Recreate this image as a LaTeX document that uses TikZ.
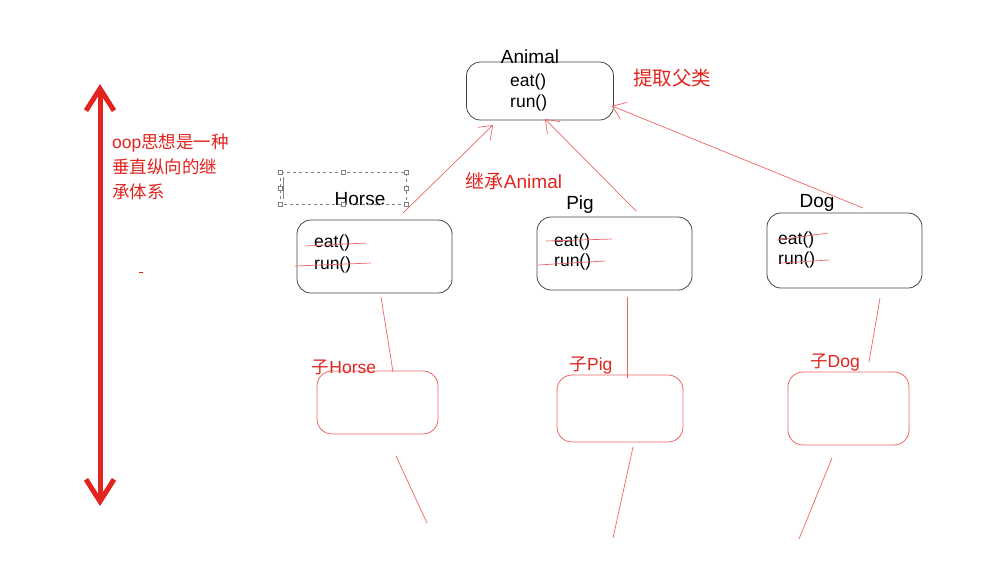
\documentclass[tikz,border=0pt]{standalone}
\usepackage{fontspec}
\setmainfont{Liberation Sans}
\newfontfamily\cjk{Noto Sans CJK SC}
\usetikzlibrary{arrows.meta}
\definecolor{txtred}{RGB}{226,35,30}
\definecolor{linered}{RGB}{238,100,100}
\definecolor{boxgray}{RGB}{70,70,70}
\begin{document}
\begin{tikzpicture}[x=1pt,y=-1pt,
  cls/.style={draw=boxgray, line width=0.8pt, rounded corners=14pt, inner sep=0pt},
  sub/.style={draw=linered, line width=0.8pt, rounded corners=15pt, inner sep=0pt},
  title/.style={font=\fontsize{19}{22}\selectfont, inner sep=0pt},
  meth/.style={font=\fontsize{17.5}{20}\selectfont, inner sep=0pt, anchor=west},
  rtxt/.style={text=txtred, font=\fontsize{19}{22}\selectfont, inner sep=0pt},
  ltxt/.style={text=txtred, font=\fontsize{17.5}{22}\selectfont, inner sep=0pt, anchor=base west},
  thinred/.style={draw=linered, line width=0.7pt},
  strike/.style={draw=linered, line width=0.7pt},
  inh/.style={thinred, -{Straight Barb[length=12pt,width=18pt]}},
  bigarrow/.style={draw=txtred, line width=5pt, {Straight Barb[length=22pt,width=28pt]}-{Straight Barb[length=22pt,width=28pt]}},
  handle/.style={draw=gray, fill=white, line width=0.5pt, minimum size=4pt, inner sep=0pt},
]
\useasboundingbox (0,0) rectangle (1000,568);

% ---- class boxes ----
\node[cls, minimum width=147pt, minimum height=58pt] (animal) at (540,91) {};
\node[cls, minimum width=155pt, minimum height=73pt] (horse) at (374.5,256.5) {};
\node[cls, minimum width=155pt, minimum height=73pt] (pig) at (614.5,253.5) {};
\node[cls, minimum width=155pt, minimum height=75pt] (dog) at (844.5,250.5) {};

% ---- titles ----
\node[title] (animalT) at (530,57) {Animal};
\node[title] (horseT) at (360,199) {Horse};
\node[title] (pigT) at (580,205) {Pig};
\node[title] (dogT) at (817,203) {Dog};

% ---- methods ----
\node[meth] (aeat) at (510,82) {eat()};
\node[meth] (arun) at (510,103) {run()};
\node[meth] (heat) at (314,243) {eat()};
\node[meth] (hrun) at (314,265) {run()};
\node[meth] (peat) at (554,242) {eat()};
\node[meth] (prun) at (554,262) {run()};
\node[meth] (deat) at (778,240) {eat()};
\node[meth] (drun) at (778,260) {run()};

% ---- strike-through marks ----
\draw[strike] (305,246) -- (366,243);
\draw[strike] (295,266) -- (371,263);
\draw[strike] (546,241) -- (612,239);
\draw[strike] (538,265) -- (605,261);
\draw[strike] (777,240) -- (828,233);
\draw[strike] (781,263) -- (829,260);

% ---- selection frame round Horse ----
\draw[gray, dashed, line width=0.6pt] (280,172) rectangle (406,204);
\draw[gray, line width=1pt] (283,177) -- (283,199);
\foreach \p in {(280,172),(343,172),(406,172),(280,188),(406,188),(280,204),(343,204),(406,204)}
  \node[handle] at \p {};

% ---- inheritance arrows ----
\coordinate (hsrc) at (403,213);
\coordinate (htip) at (493,125);
\coordinate (psrc) at (636,211);
\coordinate (ptip) at (545,119);
\coordinate (dsrc) at (863,208);
\coordinate (dtip) at (612,106);
\draw[inh] (hsrc) -- (htip);
\draw[inh] (psrc) -- (ptip);
\draw[inh] (dsrc) -- (dtip);

% ---- red labels ----
\node[rtxt, font=\fontsize{19.5}{22}\selectfont] (extract) at (672,78) {\cjk 提取父类};
\node[rtxt] (inherit) at (514,181) {{\cjk 继承}Animal};

% ---- left big arrow and text ----
\coordinate (vtop) at (100,84);
\coordinate (vbot) at (100,506);
\draw[bigarrow] (vtop) -- (vbot);
\node[ltxt] (l1) at (112,148.5) {oop{\cjk 思想是一种}};
\node[ltxt] (l2) at (112,173.5) {\cjk 垂直纵向的继};
\node[ltxt] (l3) at (112,198.5) {\cjk 承体系};
\draw[txtred, line width=0.8pt] (139,272) -- (143,272);

% ---- sub-class boxes ----
\node[sub, minimum width=121pt, minimum height=63pt] (shorse) at (377.5,402.5) {};
\node[sub, minimum width=126pt, minimum height=67pt] (spig) at (620,408.5) {};
\node[sub, minimum width=121pt, minimum height=73pt] (sdog) at (848.5,408.5) {};
\node[rtxt, font=\fontsize{17.5}{20}\selectfont] (shorseT) at (344,367) {{\cjk 子}Horse};
\node[rtxt, font=\fontsize{17.5}{20}\selectfont] (spigT) at (591,366) {{\cjk 子}Pig};
\node[rtxt, font=\fontsize{17.5}{20}\selectfont] (sdogT) at (835,363) {{\cjk 子}Dog};

% ---- connectors to sub-classes ----
\coordinate (c1a) at (381,297); \coordinate (c1b) at (393,372);
\coordinate (c2a) at (627,297); \coordinate (c2b) at (627,378);
\coordinate (c3a) at (880,298); \coordinate (c3b) at (869,362);
\draw[thinred] (c1a) -- (c1b);
\draw[thinred] (c2a) -- (c2b);
\draw[thinred] (c3a) -- (c3b);

% ---- lower strokes ----
\coordinate (b1a) at (396,456); \coordinate (b1b) at (427,523);
\coordinate (b2a) at (633,447); \coordinate (b2b) at (613,538);
\coordinate (b3a) at (832,458); \coordinate (b3b) at (799,539);
\draw[thinred] (b1a) -- (b1b);
\draw[thinred] (b2a) -- (b2b);
\draw[thinred] (b3a) -- (b3b);
\end{tikzpicture}
\end{document}
